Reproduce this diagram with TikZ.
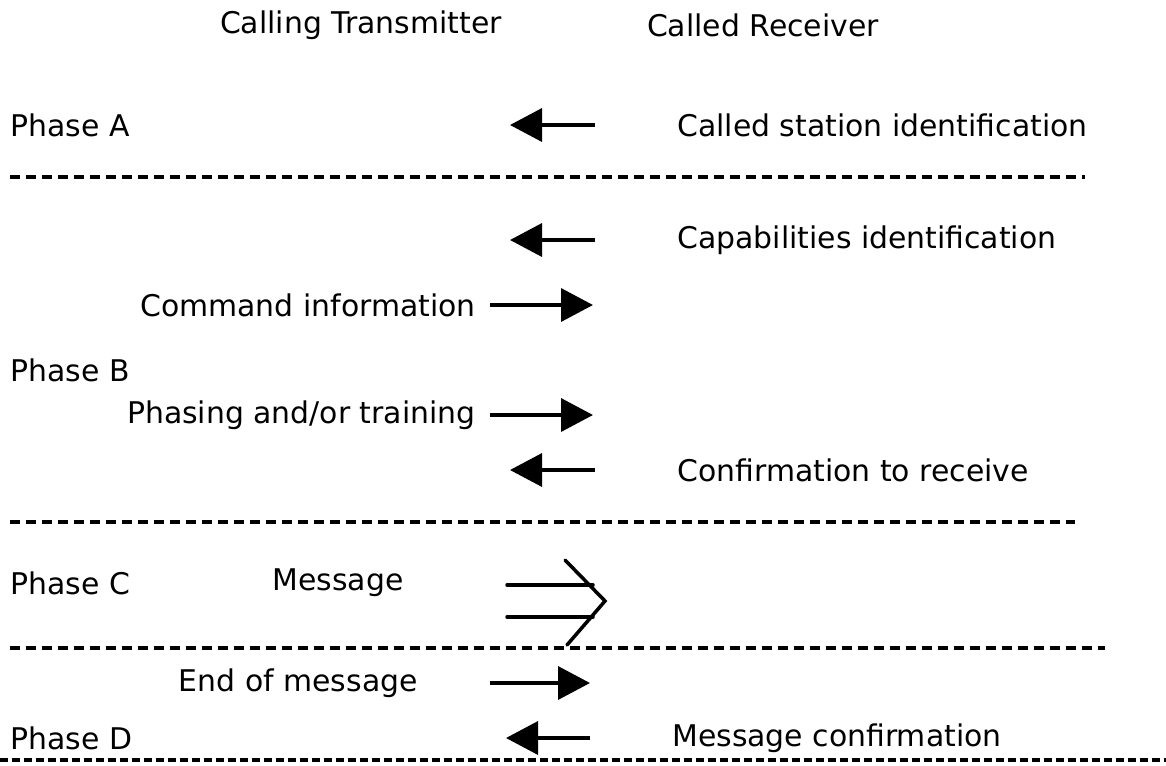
\documentclass[tikz,border=0pt]{standalone}
\usepackage{fontspec}
\setmainfont{DejaVu Sans}
\usetikzlibrary{arrows.meta}

\begin{document}
\begin{tikzpicture}[x=0.02cm, y=-0.02cm,
        lbl/.style={font=\fontsize{17}{20}\selectfont, inner sep=0pt},
        sig/.style={line width=2pt, -{Triangle[length=0.64cm, width=0.66cm]}},
        sep/.style={line width=2pt, dash pattern=on 0.2cm off 0.12cm},
        msg/.style={line width=2pt, line cap=round}]
        \useasboundingbox (0,0) rectangle (1166,765);

        \node[lbl] (tx) at (361,25) {Calling Transmitter};
        \node[lbl] (rx) at (763,25) {Called Receiver};

        \node[lbl, anchor=west] (pa) at (10,125) {Phase A};
        \node[lbl, anchor=west] (pb) at (10,370) {Phase B};
        \node[lbl, anchor=west] (pc) at (10,583) {Phase C};
        \node[lbl, anchor=west] (pd) at (10,738) {Phase D};

        \node[lbl, anchor=west] (csi) at (677,125) {Called station identification};
        \node[lbl, anchor=west] (cap) at (677,240) {Capabilities identification};
        \node[lbl, anchor=west] (ctr) at (677,470) {Confirmation to receive};
        \node[lbl, anchor=west] (mcf) at (672,738) {Message confirmation};

        \node[lbl, anchor=east] (cmd) at (476,305) {Command information};
        \node[lbl, anchor=east] (pht) at (476,415) {Phasing and/or training};
        \node[lbl, anchor=east] (eom) at (418,683) {End of message};
        \node[lbl] (mes) at (338,583) {Message};

        \coordinate (l1a) at (595,125); \coordinate (l1b) at (510,125);
        \coordinate (l2a) at (595,240); \coordinate (l2b) at (510,240);
        \coordinate (l3a) at (595,470); \coordinate (l3b) at (510,470);
        \coordinate (l4a) at (590,738); \coordinate (l4b) at (506,738);
        \draw[sig] (l1a) -- (l1b);
        \draw[sig] (l2a) -- (l2b);
        \draw[sig] (l3a) -- (l3b);
        \draw[sig] (l4a) -- (l4b);

        \coordinate (r1a) at (490,305); \coordinate (r1b) at (593,305);
        \coordinate (r2a) at (490,415); \coordinate (r2b) at (593,415);
        \coordinate (r3a) at (490,683); \coordinate (r3b) at (590,683);
        \draw[sig] (r1a) -- (r1b);
        \draw[sig] (r2a) -- (r2b);
        \draw[sig] (r3a) -- (r3b);

        \coordinate (m1) at (507,585); \coordinate (m2) at (593,585);
        \coordinate (m3) at (507,617); \coordinate (m4) at (593,617);
        \draw[msg] (m1) -- (m2);
        \draw[msg] (m3) -- (m4);
        \draw[msg] (565,560) -- (605,601) -- (567,645);

        \coordinate (s1a) at (10,177); \coordinate (s1b) at (1085,177);
        \coordinate (s2a) at (10,522); \coordinate (s2b) at (1075,522);
        \coordinate (s3a) at (10,648); \coordinate (s3b) at (1105,648);
        \coordinate (s4a) at (0,760); \coordinate (s4b) at (1166,760);
        \draw[sep] (s1a) -- (s1b);
        \draw[sep] (s2a) -- (s2b);
        \draw[sep] (s3a) -- (s3b);
        \draw[sep, dash pattern=on 0.16cm off 0.08cm] (s4a) -- (s4b);
    \end{tikzpicture}
\end{document}
